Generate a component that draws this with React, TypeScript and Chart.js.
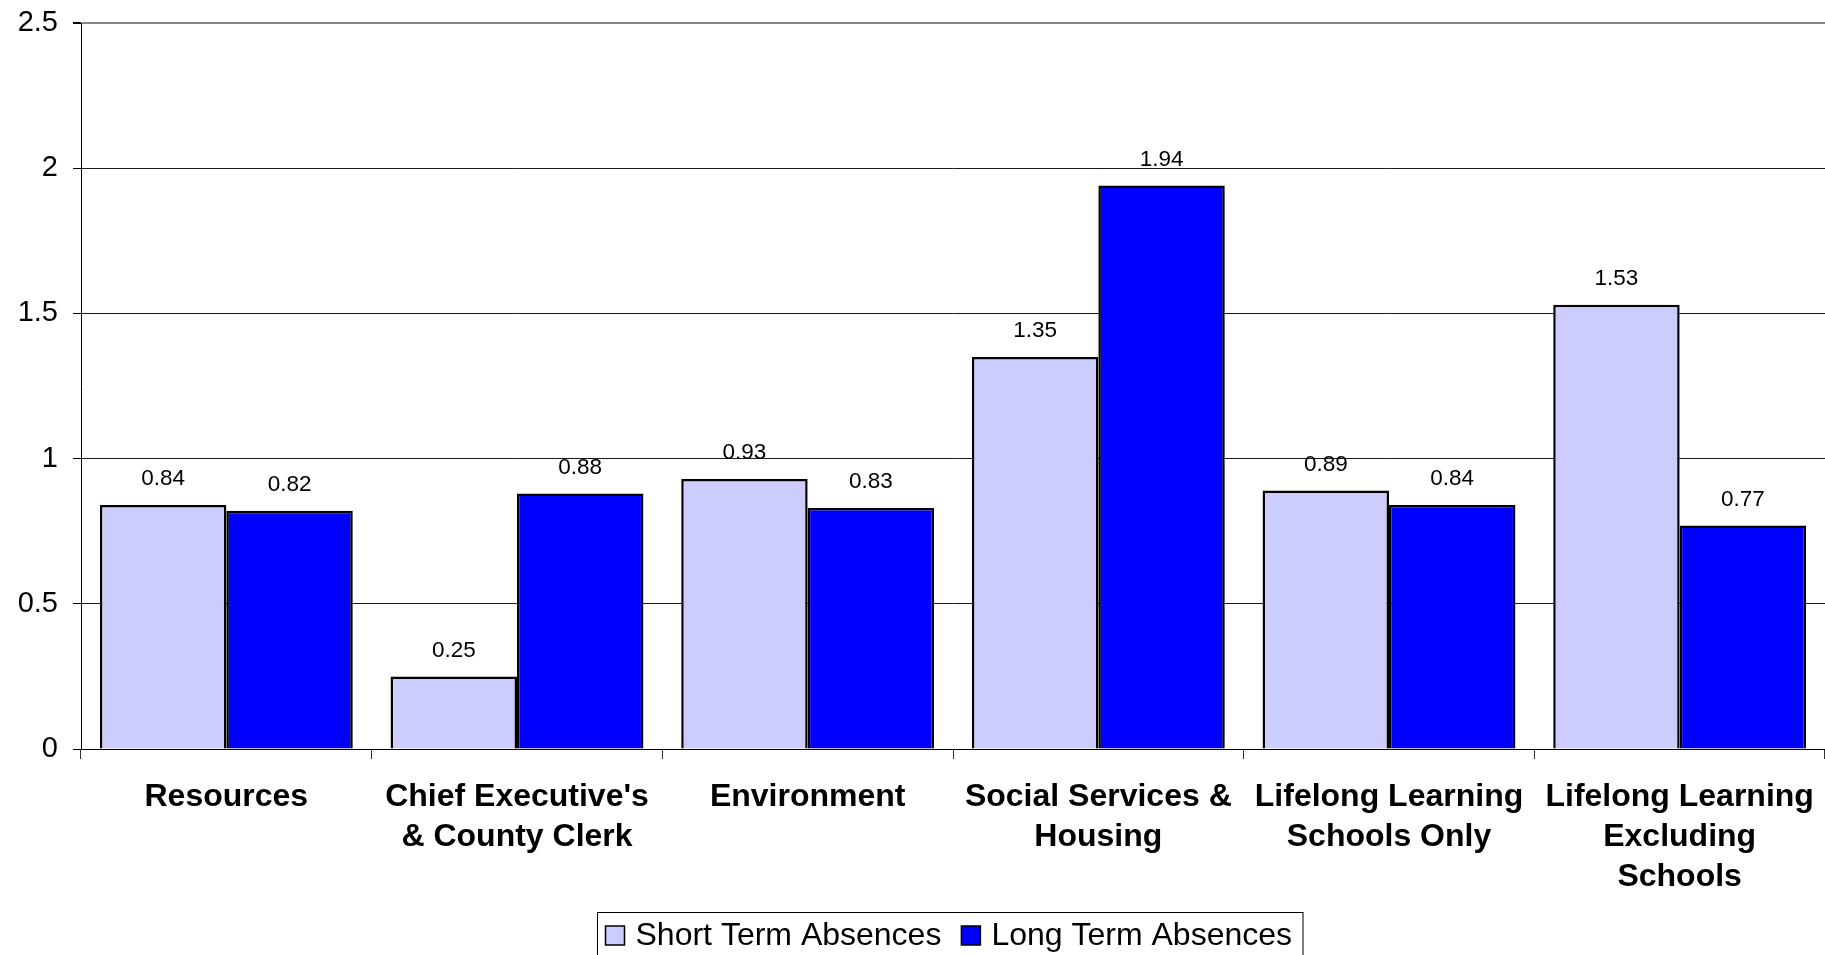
import React, { useEffect, useRef } from "react";
import { Chart, registerables } from "chart.js";

Chart.register(...registerables);

const categories: (string | string[])[] = [
  "Resources",
  ["Chief Executive's", "& County Clerk"],
  "Environment",
  ["Social Services &", "Housing"],
  ["Lifelong Learning", "Schools Only"],
  ["Lifelong Learning", "Excluding", "Schools"],
];
const shortTerm = [0.84, 0.25, 0.93, 1.35, 0.89, 1.53];
const longTerm = [0.82, 0.88, 0.83, 1.94, 0.84, 0.77];
const seriesNames = ["Short Term Absences", "Long Term Absences"];
const seriesColors = ["#CCCCFF", "#0000FF"];

const FONT = "'Liberation Sans', Arial, Helvetica, sans-serif";

const dataLabelPlugin = {
  id: "dataLabels",
  afterDatasetsDraw(chart: any) {
    const ctx = chart.ctx;
    ctx.save();
    ctx.font = `22.5px ${FONT}`;
    ctx.fillStyle = "#000";
    ctx.textAlign = "center";
    ctx.textBaseline = "middle";
    chart.data.datasets.forEach((ds: any, i: number) => {
      const meta = chart.getDatasetMeta(i);
      meta.data.forEach((el: any, j: number) => {
        ctx.fillText(String(ds.data[j]), el.x, el.y - 26);
      });
    });
    ctx.restore();
  },
};

const boxLegendPlugin = {
  id: "boxLegend",
  afterDraw(chart: any) {
    const ctx = chart.ctx;
    ctx.save();
    ctx.font = `32px ${FONT}`;
    const sq = 19;
    const padL = 8;
    const gapSq = 11;
    const gapItem = 20;
    const padR = 11;
    const widths = seriesNames.map((n) => ctx.measureText(n).width);
    let total = padL + padR;
    widths.forEach((w, i) => {
      total += sq + gapSq + w + (i < widths.length - 1 ? gapItem : 0);
    });
    const cx = (chart.chartArea.left + chart.chartArea.right) / 2 - 3;
    const left = Math.round(cx - total / 2) + 0.5;
    const top = 912.5;
    const cy = 935.5;
    ctx.strokeStyle = "#000";
    ctx.lineWidth = 1;
    ctx.strokeRect(left, top, total, 80);
    let x = left + padL;
    seriesNames.forEach((n, i) => {
      ctx.fillStyle = seriesColors[i];
      ctx.fillRect(x, cy - sq / 2, sq, sq);
      ctx.strokeStyle = "#000";
      ctx.lineWidth = 1.5;
      ctx.strokeRect(x, cy - sq / 2, sq, sq);
      x += sq + gapSq;
      ctx.fillStyle = "#000";
      ctx.textAlign = "left";
      ctx.textBaseline = "middle";
      ctx.fillText(n, x, cy + 1);
      x += widths[i] + gapItem;
    });
    ctx.restore();
  },
};

export default function App() {
  const ref = useRef<HTMLCanvasElement | null>(null);
  useEffect(() => {
    if (!ref.current) return;
    Chart.defaults.font.family = FONT;
    const chart = new Chart(ref.current, {
      type: "bar",
      data: {
        labels: categories as any,
        datasets: [
          {
            label: seriesNames[0],
            data: shortTerm,
            backgroundColor: seriesColors[0],
            borderColor: "#000",
            borderWidth: 2.5,
            categoryPercentage: 0.87,
            barPercentage: 1.0,
          },
          {
            label: seriesNames[1],
            data: longTerm,
            backgroundColor: seriesColors[1],
            borderColor: "#000",
            borderWidth: 2.5,
            categoryPercentage: 0.87,
            barPercentage: 1.0,
          },
        ],
      },
      options: {
        responsive: false,
        animation: false,
        devicePixelRatio: 1,
        layout: { padding: { top: 23, left: 1, right: 0, bottom: 0 } },
        plugins: {
          legend: { display: false },
          tooltip: { enabled: false },
        },
        scales: {
          x: {
            offset: true,
            grid: {
              offset: true,
              drawOnChartArea: false,
              drawTicks: true,
              tickLength: 10,
              color: "#333",
            },
            border: { color: "#000", width: 1 },
            ticks: {
              color: "#000",
              font: { size: 32, weight: "bold", lineHeight: 40 / 32 },
              padding: 18,
              maxRotation: 0,
              autoSkip: false,
            },
            afterFit(scale: any) {
              scale.height = 206;
              scale.paddingTop = 0;
              scale.paddingBottom = 0;
              scale.paddingLeft = 0;
              scale.paddingRight = 0;
            },
          },
          y: {
            min: 0,
            max: 2.5,
            ticks: {
              stepSize: 0.5,
              color: "#000",
              font: { size: 29 },
              padding: 15,
              callback: (v: any) => String(Number(v)),
            },
            grid: {
              color: (c: any) => (c.tick && c.tick.value === 2.5 ? "#888" : "#1a1a1a"),
              lineWidth: (c: any) => (c.tick && c.tick.value === 2.5 ? 2 : 1),
              tickColor: "#000",
              tickLength: 8,
            },
            border: { color: "#000", width: 1 },
            afterFit(scale: any) {
              scale.width = 80;
              scale.paddingTop = 0;
              scale.paddingBottom = 0;
            },
          },
        },
      },
      plugins: [dataLabelPlugin, boxLegendPlugin],
    });
    return () => chart.destroy();
  }, []);
  return (
    <div style={{ position: "absolute", left: 0, top: 0, width: 1825, height: 955, background: "#fff" }}>
      <canvas ref={ref} width={1825} height={955} style={{ display: "block" }} />
    </div>
  );
}
